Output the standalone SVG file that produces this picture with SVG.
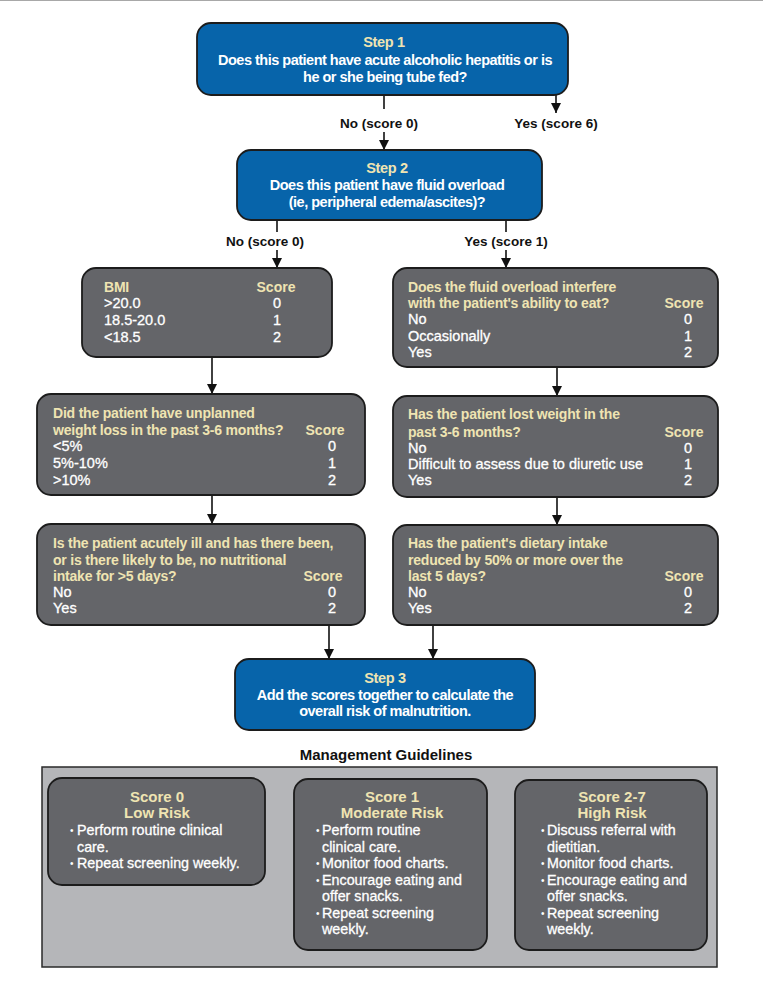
<svg xmlns="http://www.w3.org/2000/svg" width="763" height="988" viewBox="0 0 763 988">
<style>
text{font-family:"Liberation Sans",Arial,sans-serif;}
.blue{fill:#0764AA;stroke:#1c1c1c;stroke-width:1.8;}
.gray{fill:#646569;stroke:#1c1c1c;stroke-width:1.8;}
.panel{fill:#B5B6B9;stroke:#2a2a2a;stroke-width:1.5;}
.sh{font-size:14.5px;font-weight:bold;fill:#EFE4B2;text-anchor:middle;letter-spacing:-0.3px;}
.sb{font-size:14.5px;font-weight:bold;fill:#fff;text-anchor:middle;letter-spacing:-0.5px;}
.h{font-size:14px;font-weight:bold;fill:#EFE4B2;letter-spacing:-0.2px;}
.hc{font-size:14px;font-weight:bold;fill:#EFE4B2;text-anchor:middle;}
.r{font-size:14.5px;fill:#fff;stroke:#fff;stroke-width:0.3px;}
.v{font-size:14.5px;fill:#fff;stroke:#fff;stroke-width:0.3px;text-anchor:middle;}
.lbl{font-size:13.5px;font-weight:bold;fill:#111;text-anchor:middle;}
.mt{font-size:15px;font-weight:bold;fill:#EFE4B2;text-anchor:middle;}
.bl{font-size:14.3px;fill:#fff;stroke:#fff;stroke-width:0.3px;}
.dot{font-size:10px;fill:#fff;}
.ttl{font-size:15px;font-weight:bold;fill:#111;text-anchor:middle;}
.ln{stroke:#111;stroke-width:1.6;fill:none;}
.arr{stroke:#111;stroke-width:1.6;fill:none;marker-end:url(#ah);}
</style>
<defs>
<marker id="ah" viewBox="0 0 10 10" refX="10" refY="5" markerWidth="10" markerHeight="10" markerUnits="userSpaceOnUse" orient="auto">
<path d="M0,0 L10,5 L0,10 z" fill="#111"/>
</marker>
</defs>
<rect x="0" y="0" width="763" height="988" fill="#fff"/>
<line x1="0" y1="0.5" x2="763" y2="0.5" stroke="#a8a8a8" stroke-width="1"/>

<g id="connectors">
<line class="ln" x1="384" y1="95" x2="384" y2="109"/>
<line class="arr" x1="384" y1="132" x2="384" y2="150"/>
<line class="arr" x1="556" y1="95" x2="556" y2="113"/>
<line class="ln" x1="277" y1="220" x2="277" y2="232"/>
<line class="arr" x1="277" y1="250" x2="277" y2="268"/>
<line class="ln" x1="506" y1="220" x2="506" y2="232"/>
<line class="arr" x1="506" y1="250" x2="506" y2="268"/>
<line class="arr" x1="212" y1="357" x2="212" y2="394"/>
<line class="arr" x1="212" y1="495" x2="212" y2="524"/>
<line class="arr" x1="329" y1="625" x2="329" y2="659"/>
<line class="arr" x1="557" y1="367" x2="557" y2="396"/>
<line class="arr" x1="557" y1="497" x2="557" y2="525"/>
<line class="arr" x1="433" y1="625" x2="433" y2="659"/>
<text class="lbl" x="379" y="128">No (score 0)</text>
<text class="lbl" x="556" y="128">Yes (score 6)</text>
<text class="lbl" x="265" y="246">No (score 0)</text>
<text class="lbl" x="506" y="246">Yes (score 1)</text>
</g>

<g id="step1">
<rect class="blue" x="197" y="23" width="371" height="72" rx="14"/>
<text class="sh" x="384" y="47">Step 1</text>
<text class="sb" x="385" y="65">Does this patient have acute alcoholic hepatitis or is</text>
<text class="sb" x="385" y="82">he or she being tube fed?</text>
</g>

<g id="step2">
<rect class="blue" x="237" y="150" width="305" height="70" rx="14"/>
<text class="sh" x="387" y="173">Step 2</text>
<text class="sb" x="387" y="190">Does this patient have fluid overload</text>
<text class="sb" x="387" y="207">(ie, peripheral edema/ascites)?</text>
</g>

<g id="bmi">
<rect class="gray" x="82" y="268" width="250" height="89" rx="14"/>
<text class="h" x="104" y="292">BMI</text>
<text class="hc" x="276" y="292">Score</text>
<text class="r" x="104" y="308">&gt;20.0</text><text class="v" x="277" y="308">0</text>
<text class="r" x="104" y="325">18.5-20.0</text><text class="v" x="277" y="325">1</text>
<text class="r" x="104" y="342">&lt;18.5</text><text class="v" x="277" y="342">2</text>
</g>

<g id="weightloss">
<rect class="gray" x="37" y="394" width="328" height="101" rx="14"/>
<text class="h" x="53" y="418">Did the patient have unplanned</text>
<text class="h" x="53" y="435">weight loss in the past 3-6 months?</text>
<text class="hc" x="325" y="435">Score</text>
<text class="r" x="53" y="451">&lt;5%</text><text class="v" x="332" y="451">0</text>
<text class="r" x="53" y="468">5%-10%</text><text class="v" x="332" y="468">1</text>
<text class="r" x="53" y="485">&gt;10%</text><text class="v" x="332" y="485">2</text>
</g>

<g id="acutelyill">
<rect class="gray" x="37" y="524" width="328" height="101" rx="14"/>
<text class="h" x="53" y="548">Is the patient acutely ill and has there been,</text>
<text class="h" x="53" y="565">or is there likely to be, no nutritional</text>
<text class="h" x="53" y="581">intake for &gt;5 days?</text>
<text class="hc" x="323" y="581">Score</text>
<text class="r" x="53" y="597">No</text><text class="v" x="332" y="597">0</text>
<text class="r" x="53" y="613">Yes</text><text class="v" x="332" y="613">2</text>
</g>

<g id="fluid">
<rect class="gray" x="393" y="268" width="325" height="99" rx="14"/>
<text class="h" x="408" y="292">Does the fluid overload interfere</text>
<text class="h" x="408" y="308">with the patient's ability to eat?</text>
<text class="hc" x="684" y="308">Score</text>
<text class="r" x="408" y="324">No</text><text class="v" x="688" y="324">0</text>
<text class="r" x="408" y="341">Occasionally</text><text class="v" x="688" y="341">1</text>
<text class="r" x="408" y="357">Yes</text><text class="v" x="688" y="357">2</text>
</g>

<g id="lostweight">
<rect class="gray" x="393" y="396" width="325" height="101" rx="14"/>
<text class="h" x="408" y="419">Has the patient lost weight in the</text>
<text class="h" x="408" y="437">past 3-6 months?</text>
<text class="hc" x="684" y="437">Score</text>
<text class="r" x="408" y="453">No</text><text class="v" x="688" y="453">0</text>
<text class="r" x="408" y="469">Difficult to assess due to diuretic use</text><text class="v" x="688" y="469">1</text>
<text class="r" x="408" y="485">Yes</text><text class="v" x="688" y="485">2</text>
</g>

<g id="dietary">
<rect class="gray" x="393" y="525" width="325" height="100" rx="14"/>
<text class="h" x="408" y="548">Has the patient's dietary intake</text>
<text class="h" x="408" y="565">reduced by 50% or more over the</text>
<text class="h" x="408" y="581">last 5 days?</text>
<text class="hc" x="684" y="581">Score</text>
<text class="r" x="408" y="597">No</text><text class="v" x="688" y="597">0</text>
<text class="r" x="408" y="613">Yes</text><text class="v" x="688" y="613">2</text>
</g>

<g id="step3">
<rect class="blue" x="235" y="659" width="300" height="71" rx="14"/>
<text class="sh" x="385" y="683">Step 3</text>
<text class="sb" x="385" y="700">Add the scores together to calculate the</text>
<text class="sb" x="385" y="716">overall risk of malnutrition.</text>
</g>

<g id="management">
<text class="ttl" x="386" y="760">Management Guidelines</text>
<rect class="panel" x="42" y="767" width="675" height="200"/>
</g>

<g id="lowrisk">
<rect class="gray" x="48" y="778" width="217" height="107" rx="14"/>
<text class="mt" x="157" y="802">Score 0</text>
<text class="mt" x="157" y="818">Low Risk</text>
<text class="dot" x="70" y="834">•</text><text class="bl" x="77" y="835">Perform routine clinical</text>
<text class="bl" x="77" y="852">care.</text>
<text class="dot" x="70" y="867">•</text><text class="bl" x="77" y="868">Repeat screening weekly.</text>
</g>

<g id="moderaterisk">
<rect class="gray" x="294" y="779" width="193" height="171" rx="14"/>
<text class="mt" x="392" y="802">Score 1</text>
<text class="mt" x="392" y="818">Moderate Risk</text>
<text class="dot" x="316" y="834">•</text><text class="bl" x="322" y="835">Perform routine</text>
<text class="bl" x="322" y="852">clinical care.</text>
<text class="dot" x="316" y="867">•</text><text class="bl" x="322" y="868">Monitor food charts.</text>
<text class="dot" x="316" y="884">•</text><text class="bl" x="322" y="885">Encourage eating and</text>
<text class="bl" x="322" y="901">offer snacks.</text>
<text class="dot" x="316" y="917">•</text><text class="bl" x="322" y="918">Repeat screening</text>
<text class="bl" x="322" y="934">weekly.</text>
</g>

<g id="highrisk">
<rect class="gray" x="515" y="780" width="192" height="170" rx="14"/>
<text class="mt" x="612" y="802">Score 2-7</text>
<text class="mt" x="612" y="818">High Risk</text>
<text class="dot" x="541" y="834">•</text><text class="bl" x="547" y="835">Discuss referral with</text>
<text class="bl" x="547" y="852">dietitian.</text>
<text class="dot" x="541" y="867">•</text><text class="bl" x="547" y="868">Monitor food charts.</text>
<text class="dot" x="541" y="884">•</text><text class="bl" x="547" y="885">Encourage eating and</text>
<text class="bl" x="547" y="901">offer snacks.</text>
<text class="dot" x="541" y="917">•</text><text class="bl" x="547" y="918">Repeat screening</text>
<text class="bl" x="547" y="934">weekly.</text>
</g>
</svg>
